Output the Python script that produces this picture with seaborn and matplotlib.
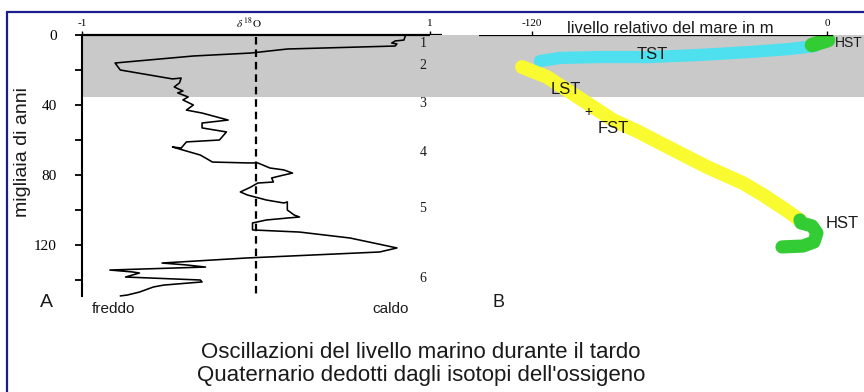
import matplotlib
matplotlib.use("Agg")
import matplotlib.pyplot as plt
from matplotlib.lines import Line2D
import seaborn as sns

# --- Panel A: oxygen-isotope record (age in thousands of years, delta 18O) ---
age_ky = [0, 2.9, 3.4, 4.6, 5.1, 6.3, 8.0, 10.3, 12.0, 16.0, 20.0, 25.1, 24.6, 27.4,
          29.7, 32.0, 33.1, 35.4, 37.1, 40.0, 42.9, 44.6, 48.6, 50.3, 53.1, 55.4, 60.0,
          61.1, 64.6, 64.0, 68.6, 72.6, 73.1, 73.1, 76.0, 77.1, 78.9, 80.0, 81.7, 84.0,
          84.6, 86.9, 89.7, 91.4, 94.3, 96.0, 95.4, 100.0, 102.9, 104.0, 104.6, 105.7,
          107.4, 111.4, 112.6, 116.0, 120.0, 121.7, 124.0, 127.4, 130.3, 131.4, 132.6,
          134.3, 135.4, 136.0, 138.3, 140.0, 141.1, 142.9, 144.0, 146.9, 148.6, 149.1]
d18o = [0.86, 0.85, 0.80, 0.78, 0.81, 0.80, 0.18, -0.03, -0.36, -0.81, -0.78, -0.48,
        -0.43, -0.44, -0.47, -0.42, -0.45, -0.39, -0.42, -0.36, -0.40, -0.31, -0.16,
        -0.31, -0.31, -0.17, -0.21, -0.40, -0.43, -0.48, -0.32, -0.25, -0.05, 0.01,
        0.08, 0.16, 0.21, 0.16, 0.09, 0.10, 0.01, -0.03, -0.09, -0.05, 0.06, 0.16,
        0.18, 0.18, 0.22, 0.25, 0.18, 0.06, -0.02, -0.02, 0.25, 0.54, 0.73, 0.81,
        0.71, -0.05, -0.54, -0.40, -0.29, -0.84, -0.71, -0.67, -0.75, -0.32, -0.31,
        -0.53, -0.59, -0.67, -0.74, -0.78]

age_ticks = [0, 20, 40, 60, 80, 100, 120, 140]
age_tick_labels = ["0", "", "40", "", "80", "", "120", ""]
d18o_ticks = [-1, 1]
d18o_tick_labels = ["-1", "1"]

stage_numbers = ["1", "2", "3", "4", "5", "6"]
stage_age = [4.6, 17.7, 39.4, 66.9, 98.9, 138.9]

last_glacial = (0, 35.4)  # shaded interval, ky

# --- Panel B: relative sea level (m) for each systems tract ---
tst_age = [14.9, 13.1, 12.6, 12.6, 11.4, 9.7, 8.0, 6.3]
tst_level = [-116.8, -108.6, -92.4, -72.0, -51.7, -31.3, -15.1, -4.9]
lst_fst_age = [18.3, 24.0, 31.4, 40.0, 48.6, 54.9, 64.6, 75.4, 84.6, 91.4, 98.9, 105.7]
lst_fst_level = [-124.1, -113.9, -105.8, -96.4, -87.1, -77.3, -63.9, -48.8, -34.2,
                 -26.0, -17.9, -11.0]
hst_old_age = [105.7, 107.4, 109.1, 113.1, 118.3, 120.6, 121.1]
hst_old_level = [-11.0, -10.6, -6.1, -4.1, -5.3, -9.8, -18.3]
hst_new_age = [5.7, 2.9]
hst_new_level = [-6.1, 0.4]

level_ticks = [-120, 0]
level_tick_labels = ["-120", "0"]

sns.set_theme(style="white")
plt.rcParams["font.family"] = ["Liberation Sans", "DejaVu Sans"]
plt.rcParams["mathtext.fontset"] = "stix"

W, H = 864, 392
fig = plt.figure(figsize=(W / 100, H / 100), dpi=100)
fig.patch.set_facecolor("white")


def fx(px):
    return px / W


def fy(py):
    return 1 - py / H


TOP, BOTTOM = 35, 300
PX_PER_KY = 1.75
age_max = (BOTTOM - TOP) / PX_PER_KY

axA = fig.add_axes([fx(82), fy(BOTTOM), (430 - 82) / W, (BOTTOM - TOP) / H])
axB = fig.add_axes([fx(430), fy(BOTTOM), (W - 430) / W, (BOTTOM - TOP) / H])
for ax in (axA, axB):
    ax.patch.set_visible(False)
    ax.axhspan(*last_glacial, color="#c9c9c9", lw=0, zorder=0)

GRAY_TXT = "#1a1a1a"

# ---------------- Panel A ----------------
sns.lineplot(x=d18o, y=age_ky, sort=False, estimator=None, color="black",
             lw=1.15, ax=axA, zorder=3)
axA.vlines(0, 1.1, 149.1, color="black", lw=1.6, linestyles=(0, (3.4, 2.2)), zorder=2)
axA.hlines(0, -1, 1.07, color="black", lw=1.6, clip_on=False, zorder=5)

axA.set_xlim(-1, 1)
axA.set_ylim(age_max, 0)
for s in ("top", "right", "bottom"):
    axA.spines[s].set_visible(False)
axA.spines["left"].set_bounds(0, 149.1)
axA.spines["left"].set_linewidth(1.5)
axA.spines["left"].set_color("black")
axA.xaxis.tick_top()
axA.set_xticks(d18o_ticks, d18o_tick_labels)
axA.set_yticks(age_ticks, age_tick_labels)
axA.tick_params(axis="x", direction="out", length=3, width=1, pad=2, labelsize=8,
                labelfontfamily="Liberation Serif", colors="black")
axA.tick_params(axis="y", direction="out", length=5, width=1.3, pad=13, labelsize=11,
                labelfontfamily="Liberation Serif", colors="black", left=True)
axA.set_xlabel("")
axA.set_ylabel("")

for num, a in zip(stage_numbers, stage_age):
    axA.text(0.96, a, num, ha="center", va="center", fontsize=10,
             family="Liberation Serif", color=GRAY_TXT)

# ---------------- Panel B ----------------
stroke = dict(sort=False, estimator=None, ax=axB, solid_capstyle="round",
              solid_joinstyle="round", legend=False)
sns.lineplot(x=tst_level, y=tst_age, color="#4ee0ee", lw=8.8, zorder=2, **stroke)
sns.lineplot(x=lst_fst_level, y=lst_fst_age, color="#fafa30", lw=10, zorder=3, **stroke)
sns.lineplot(x=hst_old_level, y=hst_old_age, color="#34cc34", lw=9.5, zorder=4, **stroke)
sns.lineplot(x=hst_new_level, y=hst_new_age, color="#34cc34", lw=10.5, zorder=4, **stroke)
axB.hlines(0, -141.6, 2.4, color="black", lw=1.6, zorder=5)

axB.set_xlim((430 - 827) / 2.458, (W - 827) / 2.458)
axB.set_ylim(age_max, 0)
for s in axB.spines.values():
    s.set_visible(False)
axB.xaxis.tick_top()
axB.set_xticks(level_ticks, level_tick_labels)
axB.set_yticks([])
axB.tick_params(axis="x", direction="out", length=3, width=1, pad=2, labelsize=8,
                labelfontfamily="Liberation Serif", colors="black")
axB.set_xlabel("")
axB.set_ylabel("")

tract_kw = dict(ha="center", va="center", fontsize=12, color=GRAY_TXT, zorder=6)
axB.text(-71.2, 11.4, "TST", **tract_kw)
axB.text(-106.2, 30.9, "LST", **tract_kw)
axB.text(-97.2, 44.0, "+", ha="center", va="center", fontsize=10, color=GRAY_TXT)
axB.text(-87.1, 53.7, "FST", **tract_kw)
axB.text(6.1, 108.0, "HST", **tract_kw)
axB.text(3.3, 4.6, "HST", ha="left", va="center", fontsize=10, color=GRAY_TXT, zorder=6)

# ---------------- labels and caption ----------------
fig.text(fx(249), fy(28), r"$\delta\ ^{18}\mathrm{O}$", ha="center", va="baseline",
         fontsize=8, color="black")
fig.text(fx(670), fy(33), "livello relativo del mare in m", ha="center",
         va="baseline", fontsize=12, color=GRAY_TXT)
fig.text(fx(23), fy(152), "migliaia di anni", rotation=90, ha="center", va="center",
         fontsize=14, color=GRAY_TXT)
fig.text(fx(40), fy(307), "A", ha="left", va="baseline", fontsize=14, color=GRAY_TXT)
fig.text(fx(492), fy(307), "B", ha="left", va="baseline", fontsize=13, color=GRAY_TXT)
fig.text(fx(92), fy(313), "freddo", ha="left", va="baseline", fontsize=11, color=GRAY_TXT)
fig.text(fx(372), fy(313), "caldo", ha="left", va="baseline", fontsize=11, color=GRAY_TXT)
fig.text(fx(421), fy(358), "Oscillazioni del livello marino durante il tardo",
         ha="center", va="baseline", fontsize=16, color=GRAY_TXT)
fig.text(fx(421), fy(381), "Quaternario dedotti dagli isotopi dell'ossigeno",
         ha="center", va="baseline", fontsize=16, color=GRAY_TXT)

# blue frame along the top and left edges
frame = "#1c1c8c"
fig.add_artist(Line2D([fx(7), 1], [fy(12), fy(12)], color=frame, lw=1.6))
fig.add_artist(Line2D([fx(7), fx(7)], [fy(12), 0], color=frame, lw=1.6))

fig.savefig("out.png", dpi=100, facecolor="white")
